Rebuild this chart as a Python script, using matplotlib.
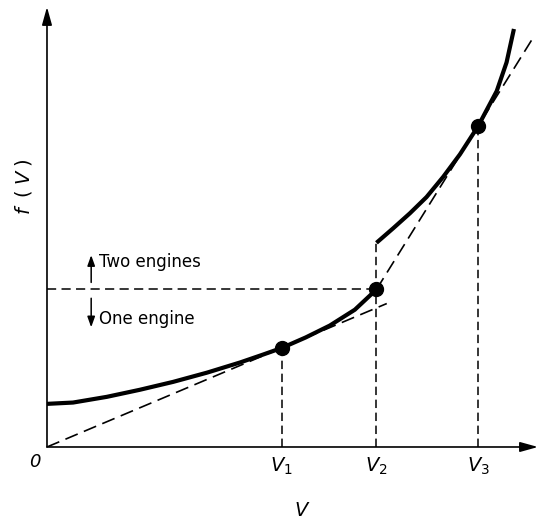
import matplotlib
matplotlib.use("Agg")
import matplotlib.pyplot as plt

# ---- data (V, f(V) in arbitrary units) ----
one_engine_V = [0.00, 0.53, 1.22, 1.89, 2.57, 3.26, 3.93, 4.40, 4.78, 5.27, 5.76, 6.27, 6.71]
one_engine_f = [0.98, 1.01, 1.14, 1.30, 1.48, 1.69, 1.92, 2.10, 2.25, 2.49, 2.76, 3.12, 3.58]

two_engine_V = [6.71, 7.05, 7.39, 7.73, 8.07, 8.41, 8.78, 9.16, 9.36, 9.51]
two_engine_f = [4.64, 4.97, 5.31, 5.68, 6.14, 6.65, 7.29, 8.09, 8.74, 9.50]

# tangent line from origin through V1
tangent1_V = [0.00, 6.92]
tangent1_f = [0.00, 3.26]
# line through V2 and V3
tangent2_V = [6.71, 9.90]
tangent2_f = [3.58, 9.30]

key_V = [4.78, 6.71, 8.78]          # V1, V2, V3
key_f = [2.25, 3.58, 7.29]          # operating points (dots)
vert_top = [2.25, 4.64, 7.29]       # top of vertical dashed lines
switch_f = 3.58                     # switch-over level
tick_labels = ["$V_1$", "$V_2$", "$V_3$"]

fig = plt.figure(figsize=(5.42, 5.20), dpi=100)
ax = fig.add_axes([0.0867, 0.1404, 0.9059, 0.8462])
ax.set_xlim(0, 10)
ax.set_ylim(0, 10)
for s in ax.spines.values():
    s.set_visible(False)

# axes with arrows
arrow_kw = dict(arrowstyle="-|>,head_length=0.9,head_width=0.25",
                lw=1.2, color="black", mutation_scale=12, shrinkA=0, shrinkB=0)
ax.annotate("", xy=(1, 0), xytext=(0, 0), xycoords="axes fraction", arrowprops=arrow_kw)
ax.annotate("", xy=(0, 1), xytext=(0, 0), xycoords="axes fraction", arrowprops=arrow_kw)

# curves
ax.plot(one_engine_V, one_engine_f, color="black", lw=3.0,
        solid_capstyle="butt", solid_joinstyle="round", zorder=4)
ax.plot(two_engine_V, two_engine_f, color="black", lw=3.0,
        solid_capstyle="butt", solid_joinstyle="round", zorder=4)

# tangent lines
ax.plot(tangent1_V, tangent1_f, color="black", lw=1.2, dashes=(8, 4), zorder=3)
ax.plot(tangent2_V, tangent2_f, color="black", lw=1.2, dashes=(8, 4), zorder=3)

# vertical dashed lines
for v, top in zip(key_V, vert_top):
    ax.plot([v, v], [0, top], color="black", lw=1.1, dashes=(5.5, 3), zorder=2)
# horizontal switch-over line
ax.plot([0, key_V[1]], [switch_f, switch_f], color="black", lw=1.1,
        dashes=(6, 3.5), zorder=2)

# operating points
ax.plot(key_V, key_f, "o", color="black", markersize=10, zorder=5)

# engine annotations
small_kw = dict(arrowstyle="-|>,head_length=0.7,head_width=0.25",
                lw=1.1, color="black", mutation_scale=9, shrinkA=0, shrinkB=0)
ax.annotate("", xy=(0.90, 4.36), xytext=(0.90, 3.74), xycoords="data", arrowprops=small_kw)
ax.annotate("", xy=(0.90, 2.72), xytext=(0.90, 3.38), xycoords="data", arrowprops=small_kw)
ax.text(1.06, 4.21, "Two engines", fontsize=12, ha="left", va="center")
ax.text(1.06, 2.92, "One engine", fontsize=12, ha="left", va="center")

# ticks and labels
ax.set_xticks(key_V)
ax.set_xticklabels(tick_labels, fontsize=14)
ax.tick_params(axis="x", length=0, pad=6)
ax.set_yticks([])
ax.text(-0.013, -0.035, "0", transform=ax.transAxes, fontsize=13,
        fontstyle="italic", ha="right", va="center")
ax.set_xlabel("$V$", fontsize=14, va="center")
ax.xaxis.set_label_coords(0.52, -0.145)
ax.set_ylabel(r"$f\;\;(\;V\;)$", fontsize=14, va="center")
ax.yaxis.set_label_coords(-0.047, 0.592)

fig.savefig("out.png", dpi=100)
